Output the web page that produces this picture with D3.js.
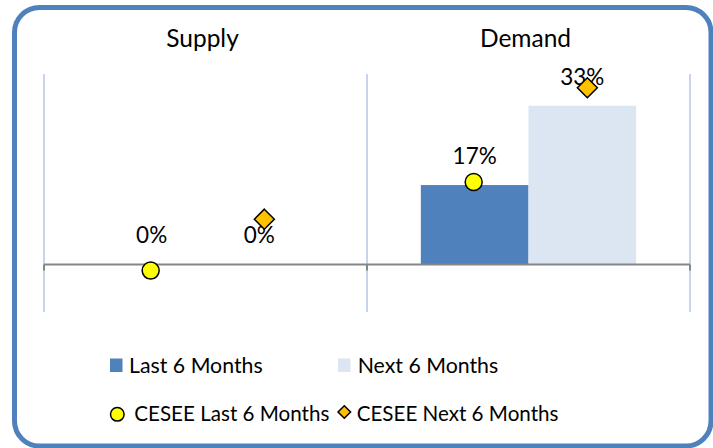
<!DOCTYPE html>
<html>
<head>
<meta charset="utf-8">
<script src="https://cdn.jsdelivr.net/npm/d3@7"></script>
<style>
  html, body { margin: 0; padding: 0; background: #ffffff; }
  svg { display: block; }
  text { font-family: Lato, "Open Sans", sans-serif; fill: #000; }
</style>
</head>
<body>
<svg id="chart" width="713" height="448"></svg>
<script>
// ---- data ----
const categories = ["Supply", "Demand"];
const barSeries = ["Last 6 Months", "Next 6 Months"];
const last6 = [0, 16.67];
const next6 = [0, 33.33];
const cseeLast6 = [-1.3, 17.3];
const cseeNext6 = [9.5, 37.1];
const barLabels = ["0%", "17%", "0%", "33%"]; // order: Last Supply, Last Demand, Next Supply, Next Demand
const markerSeries = ["CESEE Last 6 Months", "CESEE Next 6 Months"];
const yDomain = [-10, 40];

// ---- layout ----
const plot = { left: 44, right: 690, top: 74, bottom: 312 };
const colors = { last: "#4f81bd", next: "#dce6f2", circle: "#ffff00", diamond: "#ffc000",
  grid: "#b3c7e3", axis: "#868686", border: "#4f81bd" };

const svg = d3.select("#chart");

// border
svg.append("rect")
  .attr("x", 14.5).attr("y", 7.5)
  .attr("width", 696.5).attr("height", 438.5)
  .attr("rx", 25).attr("ry", 25)
  .attr("fill", "#fff")
  .attr("stroke", colors.border).attr("stroke-width", 5);

const x0 = d3.scaleBand().domain(categories).range([plot.left, plot.right]).paddingInner(0).paddingOuter(0);
const x1 = d3.scaleBand().domain(barSeries).range([0, x0.bandwidth()]).paddingInner(0).paddingOuter(0.5);
const y = d3.scaleLinear().domain(yDomain).range([plot.bottom, plot.top]);

// vertical category gridlines
const gridXs = categories.map(c => x0(c)).concat([x0(categories[categories.length - 1]) + x0.bandwidth()]);
svg.append("g").selectAll("line").data(gridXs).join("line")
  .attr("x1", d => d).attr("x2", d => d)
  .attr("y1", y(yDomain[1])).attr("y2", y(yDomain[0]))
  .attr("stroke", colors.grid).attr("stroke-width", 1.5);

// category titles
svg.append("g").selectAll("text").data(categories).join("text")
  .attr("x", d => x0(d) + x0.bandwidth() / 2 - 3)
  .attr("y", 47)
  .attr("text-anchor", "middle")
  .attr("font-size", 24.5)
  .text(d => d);

// bars
const barData = [];
barSeries.forEach((s, si) => {
  const vals = si === 0 ? last6 : next6;
  categories.forEach((c, ci) => barData.push({ s, c, v: vals[ci], label: barLabels[si * 2 + ci], color: si === 0 ? colors.last : colors.next }));
});
svg.append("g").selectAll("rect").data(barData).join("rect")
  .attr("x", d => x0(d.c) + x1(d.s))
  .attr("width", x1.bandwidth())
  .attr("y", d => y(Math.max(0, d.v)))
  .attr("height", d => Math.abs(y(d.v) - y(0)))
  .attr("fill", d => d.color);

// axis line with ticks
const axG = svg.append("g").attr("transform", `translate(0,${y(0)})`);
axG.append("line")
  .attr("x1", plot.left).attr("x2", plot.right)
  .attr("stroke", colors.axis).attr("stroke-width", 2);
axG.selectAll("line.tick").data(gridXs).join("line").attr("class", "tick")
  .attr("x1", d => d).attr("x2", d => d).attr("y1", 0).attr("y2", 6)
  .attr("stroke", colors.axis).attr("stroke-width", 2);

// data labels
svg.append("g").selectAll("text").data(barData).join("text")
  .attr("x", d => x0(d.c) + x1(d.s) + x1.bandwidth() / 2)
  .attr("y", d => y(Math.max(0, d.v)) - 21)
  .attr("text-anchor", "middle")
  .attr("font-size", 22.5)
  .text(d => d.label);

// CESEE markers
const diamondNudge = 5;
const diamondPath = r => `M0,${-r}L${r},0L0,${r}L${-r},0Z`;
svg.append("g").selectAll("circle").data(categories).join("circle")
  .attr("cx", (c) => x0(c) + x1(barSeries[0]) + x1.bandwidth() / 2 - 1)
  .attr("cy", (c, i) => y(cseeLast6[i]))
  .attr("r", 8.5)
  .attr("fill", colors.circle).attr("stroke", "#000").attr("stroke-width", 1.5);
svg.append("g").selectAll("path").data(categories).join("path")
  .attr("transform", (c, i) => `translate(${x0(c) + x1(barSeries[1]) + x1.bandwidth() / 2 + diamondNudge},${y(cseeNext6[i])})`)
  .attr("d", diamondPath(10))
  .attr("fill", colors.diamond).attr("stroke", "#000").attr("stroke-width", 1.5);

// legend
const leg = svg.append("g");
const legRow1 = [
  { label: barSeries[0], color: colors.last, sx: 110, tx: 129 },
  { label: barSeries[1], color: colors.next, sx: 338, tx: 357.7 }
];
legRow1.forEach(d => {
  leg.append("rect").attr("x", d.sx).attr("y", 358.5).attr("width", 12.5).attr("height", 13.5).attr("fill", d.color);
  leg.append("text").attr("x", d.tx).attr("y", 372.7).attr("font-size", 21.3).text(d.label);
});
leg.append("circle").attr("cx", 117.3).attr("cy", 414.3).attr("r", 6.8)
  .attr("fill", colors.circle).attr("stroke", "#000").attr("stroke-width", 1.5);
leg.append("text").attr("x", 134.3).attr("y", 420.7).attr("font-size", 20.6).text(markerSeries[0]);
leg.append("path").attr("transform", "translate(344.3,412)").attr("d", diamondPath(6.3))
  .attr("fill", colors.diamond).attr("stroke", "#000").attr("stroke-width", 1.5);
leg.append("text").attr("x", 356.7).attr("y", 420.7).attr("font-size", 20.6).text(markerSeries[1]);
</script>
</body>
</html>
